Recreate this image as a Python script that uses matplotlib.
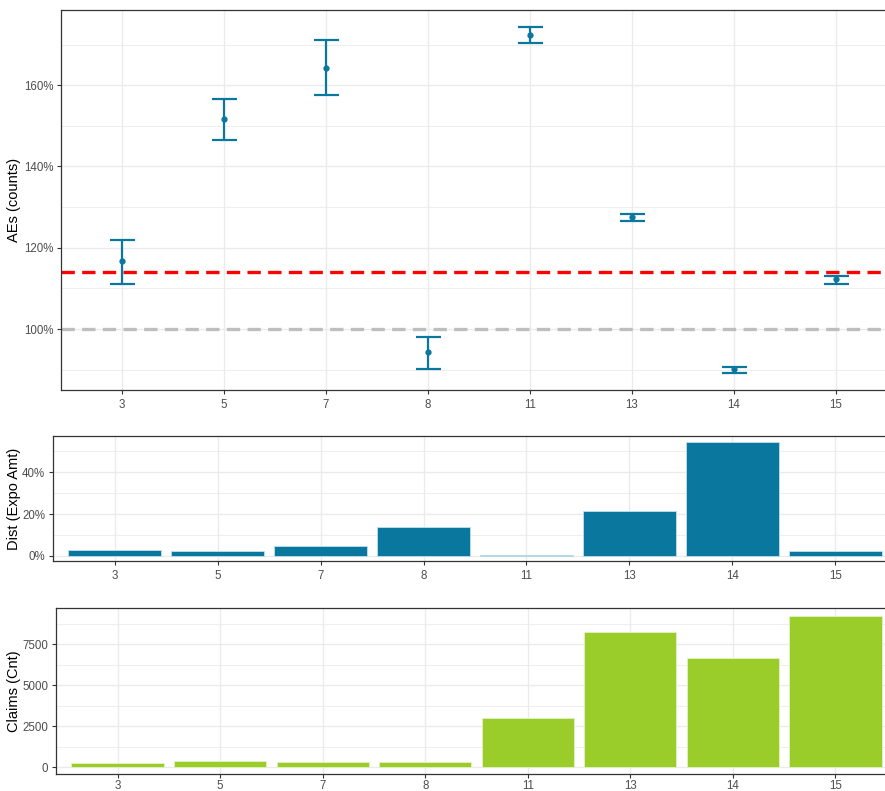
import matplotlib
matplotlib.use("Agg")
import matplotlib.pyplot as plt
import numpy as np
from matplotlib.ticker import FuncFormatter, MultipleLocator

plt.rcParams['font.family'] = ['Liberation Sans', 'DejaVu Sans']

# Data
groups = ["3", "5", "7", "8", "11", "13", "14", "15"]
ae_mid = [116.7, 151.7, 164.3, 94.3, 172.3, 127.5, 90.1, 112.2]
ae_low = [111.2, 146.5, 157.6, 90.2, 170.3, 126.5, 89.2, 111.2]
ae_high = [122.0, 156.6, 171.1, 98.0, 174.3, 128.4, 90.7, 113.0]
ae_overall = 114.1
ae_reference = 100.0
dist_expo = [2.9, 2.4, 4.6, 14.0, 0.6, 21.5, 54.2, 2.4]
claims_cnt = [240, 384, 280, 280, 2988, 8250, 6665, 9220]

BLUE = "#0A779F"
GREEN = "#9ACD2A"
GRID = "#EBEBEB"
BORDER = "#333333"
TICKC = "#4D4D4D"

W, H = 885, 791
fig = plt.figure(figsize=(W / 100, H / 100), dpi=100)

def px_axes(left, top, right, bottom):
    return fig.add_axes([left / W, 1 - bottom / H, (right - left) / W, (bottom - top) / H])

def style(ax, ylabel, left_px, width_px, xpad=3.5):
    ax.set_facecolor("white")
    for s in ax.spines.values():
        s.set_color(BORDER)
        s.set_linewidth(0.9)
    ax.grid(True, which="major", color=GRID, linewidth=1.0)
    ax.grid(True, which="minor", axis="y", color=GRID, linewidth=0.6)
    ax.set_axisbelow(True)
    ax.tick_params(axis="both", which="major", colors=BORDER, labelcolor=TICKC,
                   labelsize=8.3, length=3, width=0.8)
    ax.tick_params(axis="y", which="major", pad=2.5)
    ax.tick_params(axis="x", which="major", pad=xpad)
    ax.tick_params(axis="both", which="minor", length=0)
    ax.set_ylabel(ylabel, fontsize=10.5, color="black")
    ax.yaxis.set_label_coords((21 - left_px) / width_px, 0.5)

x = np.arange(1, len(groups) + 1)
pct = FuncFormatter(lambda v, p: f"{v:.0f}%")

# Top panel: A/E ratios with intervals
ax1 = px_axes(61, 10, 897, 390)
yerr = [np.array(ae_mid) - np.array(ae_low), np.array(ae_high) - np.array(ae_mid)]
ax1.axhline(ae_reference, color="#BEBEBE", linestyle=(0, (4, 2.2)), linewidth=2.4, zorder=2)
ax1.axhline(ae_overall, color="#FF0000", linestyle=(0, (4, 2.2)), linewidth=2.4, zorder=2)
ax1.errorbar(x, ae_mid, yerr=yerr, fmt="o", color=BLUE, ecolor=BLUE, markersize=3.5,
             elinewidth=1.6, capsize=9, capthick=1.6, zorder=3)
ax1.set_xlim(0.4, 8.6)
ax1.set_ylim(85, 178.5)
ax1.set_xticks(x)
ax1.set_xticklabels(groups)
ax1.yaxis.set_major_locator(MultipleLocator(20))
ax1.yaxis.set_minor_locator(MultipleLocator(10))
ax1.yaxis.set_major_formatter(pct)
style(ax1, "AEs (counts)", 61, 836)

# Middle panel: exposure distribution
ax2 = px_axes(53, 436, 897, 561)
ax2.bar(x, dist_expo, width=0.9, color=BLUE, edgecolor="#BFE0EC", linewidth=0.6, zorder=3)
ax2.set_xlim(0.4, 8.6)
ax2.set_ylim(-2.4, 57.2)
ax2.set_xticks(x)
ax2.set_xticklabels(groups)
ax2.yaxis.set_major_locator(MultipleLocator(20))
ax2.yaxis.set_minor_locator(MultipleLocator(10))
ax2.yaxis.set_major_formatter(pct)
style(ax2, "Dist (Expo Amt)", 53, 844)

# Bottom panel: claim counts
ax3 = px_axes(56, 608, 897, 774)
ax3.bar(x, claims_cnt, width=0.9, color=GREEN, edgecolor="#E4F3C6", linewidth=0.6, zorder=3)
ax3.set_xlim(0.4, 8.6)
ax3.set_ylim(-427, 9713)
ax3.set_xticks(x)
ax3.set_xticklabels(groups)
ax3.yaxis.set_major_locator(MultipleLocator(2500))
ax3.yaxis.set_minor_locator(MultipleLocator(1250))
style(ax3, "Claims (Cnt)", 56, 841, xpad=1.5)

fig.savefig("out.png", dpi=100, facecolor="white")
